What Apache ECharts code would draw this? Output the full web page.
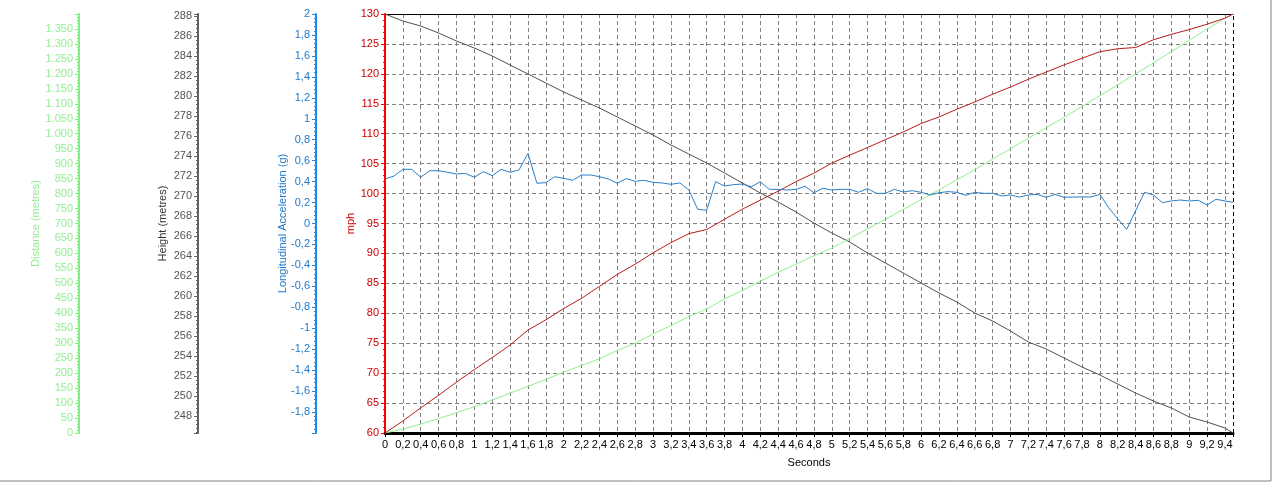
<!DOCTYPE html>
<html>
<head>
<meta charset="utf-8">
<script src="https://cdn.jsdelivr.net/npm/echarts@6/dist/echarts.min.js"></script>
<style>
html,body{margin:0;padding:0;background:#fff;}
#chart{width:1272px;height:482px;}
</style>
</head>
<body>
<div id="chart"></div>
<script>
// Time (s) sampling of the acceleration trace
const secondsFine = [0,0.1,0.2,0.3,0.4,0.5,0.6,0.7,0.8,0.9,1.0,1.1,1.2,1.3,1.4,1.5,1.6,1.7,1.8,1.9,
  2.0,2.1,2.2,2.3,2.4,2.5,2.6,2.7,2.8,2.9,3.0,3.1,3.2,3.3,3.4,3.5,3.6,3.7,3.8,3.9,
  4.0,4.1,4.2,4.3,4.4,4.5,4.6,4.7,4.8,4.9,5.0,5.1,5.2,5.3,5.4,5.5,5.6,5.7,5.8,5.9,
  6.0,6.1,6.2,6.3,6.4,6.5,6.6,6.7,6.8,6.9,7.0,7.1,7.2,7.3,7.4,7.5,7.6,7.7,7.8,7.9,
  8.0,8.1,8.2,8.3,8.4,8.5,8.6,8.7,8.8,8.9,9.0,9.1,9.2,9.3,9.4,9.49];
// Longitudinal acceleration (g)
const accel = [0.425,0.453,0.517,0.517,0.441,0.504,0.504,0.489,0.473,0.478,
  0.441,0.495,0.456,0.517,0.489,0.511,0.670,0.384,0.390,0.447,
  0.431,0.412,0.463,0.463,0.447,0.425,0.384,0.428,0.403,0.412,
  0.393,0.387,0.374,0.387,0.320,0.135,0.126,0.399,0.358,0.371,
  0.377,0.351,0.399,0.326,0.326,0.320,0.326,0.355,0.294,0.336,
  0.320,0.326,0.326,0.298,0.333,0.288,0.288,0.326,0.301,0.313,
  0.298,0.272,0.294,0.304,0.298,0.269,0.298,0.288,0.288,0.263,
  0.272,0.253,0.272,0.278,0.250,0.278,0.250,0.253,0.253,0.253,
  0.278,0.150,0.045,-0.056,0.122,0.298,0.272,0.199,0.215,0.224,
  0.215,0.221,0.177,0.231,0.215,0.202];

// Time (s) sampling of speed / distance / height traces
const secondsCoarse = [0,0.2,0.4,0.6,0.8,1.0,1.2,1.4,1.6,1.8,2.0,2.2,2.4,2.6,2.8,3.0,3.2,3.4,3.6,3.8,
  4.0,4.2,4.4,4.6,4.8,5.0,5.2,5.4,5.6,5.8,6.0,6.2,6.4,6.6,6.8,7.0,7.2,7.4,7.6,7.8,
  8.0,8.2,8.4,8.6,8.8,9.0,9.2,9.4,9.49];
// Speed (mph)
const speed = [60.0,62.0,64.2,66.3,68.5,70.6,72.6,74.7,77.2,78.9,
  80.8,82.5,84.5,86.5,88.2,90.1,91.8,93.3,94.0,95.7,
  97.4,98.9,100.4,102.0,103.4,105.1,106.4,107.7,109.0,110.3,
  111.7,112.8,114.1,115.3,116.6,117.8,119.1,120.3,121.5,122.6,
  123.7,124.2,124.4,125.7,126.6,127.4,128.3,129.3,130.0];
// Distance (metres)
const distance = [0,13,30,48,68,88,110,133,156,179,
  203,226,248,276,300,331,359,389,414,448,
  476,507,537,564,592,618,650,682,714,747,
  780,812,846,880,915,950,985,1020,1055,1091,
  1127,1163,1200,1237,1274,1312,1350,1385,1400];
// Height (metres)
const height = [288.2,287.5,287.0,286.3,285.5,284.8,284.0,283.1,282.2,281.3,
  280.4,279.6,278.8,277.9,277.0,276.1,275.1,274.2,273.3,272.3,
  271.3,270.3,269.4,268.4,267.3,266.3,265.4,264.3,263.3,262.3,
  261.3,260.3,259.4,258.3,257.5,256.5,255.4,254.7,253.8,252.9,
  252.1,251.2,250.3,249.5,248.8,247.9,247.4,246.8,246.3];

const FONT = 'Liberation Sans';
const tMax = secondsFine[secondsFine.length - 1];
const comma = v => String(+(+v).toFixed(2)).replace('.', ',');
const thousands = v => {
  const s = String(Math.round(v));
  return s.replace(/\B(?=(\d{3})+(?!\d))/g, '.');
};

function yAx(opt) {
  const c = opt.color;
  return Object.assign({
    type: 'value',
    position: 'left',
    nameLocation: 'middle',
    nameRotate: 90,
    nameMoveOverlap: false,
    nameTextStyle: { color: opt.nameColor || c, fontFamily: FONT, fontSize: 11 },
    axisLine: { show: true, onZero: false, lineStyle: { color: opt.lineColor || c, width: 2 } },
    axisTick: { show: true, length: 4, lineStyle: { color: opt.lineColor || c } },
    minorTick: { show: true, splitNumber: 5, length: 2, lineStyle: { color: opt.lineColor || c } },
    axisLabel: { color: c, fontFamily: FONT, fontSize: 11, margin: 6 },
    splitLine: { show: false },
    minorSplitLine: { show: false }
  }, opt.extra);
}

const chart = echarts.init(document.getElementById('chart'), null, { renderer: 'canvas' });
chart.setOption({
  backgroundColor: '#ffffff',
  animation: false,
  grid: { left: 385, right: 39, top: 14, bottom: 49, containLabel: false },
  xAxis: [{
    type: 'value', min: 0, max: tMax, interval: 0.2,
    name: 'Seconds', nameLocation: 'middle', nameGap: 24,
    nameTextStyle: { color: '#000', fontFamily: FONT, fontSize: 11 },
    axisLine: { onZero: false, lineStyle: { color: '#000', width: 3 } },
    axisTick: { show: true, length: 4, lineStyle: { color: '#000' } },
    minorTick: { show: true, splitNumber: 4, length: 2, lineStyle: { color: '#000' } },
    axisLabel: { color: '#000', fontFamily: FONT, fontSize: 11, margin: 6, showMaxLabel: false,
      formatter: v => comma(v) },
    splitLine: { show: true, showMinLine: false, showMaxLine: false, lineStyle: { color: '#808080', type: [4, 3], width: 1 } }
  }, {
    type: 'value', min: 0, max: tMax, position: 'top',
    axisLine: { show: true, onZero: false, lineStyle: { color: '#000', width: 1 } },
    axisTick: { show: false }, axisLabel: { show: false }, splitLine: { show: false }
  }],
  yAxis: [
    yAx({ color: '#cc0000', lineColor: '#ff0000', extra: {
      name: 'mph', nameGap: 29, min: 60, max: 130, interval: 5, offset: 0,
      splitLine: { show: true, showMinLine: false, showMaxLine: false, lineStyle: { color: '#808080', type: [4, 3], width: 1 } }
    }}),
    yAx({ color: '#1f78c8', lineColor: '#1e88e5', extra: {
      name: 'Longitudinal Acceleration (g)', nameGap: 28, min: -2, max: 2, interval: 0.2, offset: 69,
      axisLabel: { color: '#1f78c8', fontFamily: FONT, fontSize: 11, margin: 6, showMinLabel: false,
        formatter: v => comma(v) }
    }}),
    yAx({ color: '#555555', lineColor: '#606060', nameColor: '#333333', extra: {
      name: 'Height (metres)', nameGap: 30, min: 246.3, max: 288.2, splitNumber: 20, offset: 187,
      axisLabel: { color: '#555555', fontFamily: FONT, fontSize: 11, margin: 6, showMinLabel: false, showMaxLabel: false,
        formatter: v => String(Math.round(v)) }
    }}),
    yAx({ color: '#90ee90', lineColor: '#80f080', extra: {
      name: 'Distance (metres)', nameGap: 38, min: 0, max: 1400, interval: 50, offset: 306,
      axisLabel: { color: '#90ee90', fontFamily: FONT, fontSize: 11, margin: 6, showMaxLabel: false,
        formatter: v => thousands(v) }
    }})
  ],
  series: [
    { name: 'Height', type: 'line', yAxisIndex: 2, showSymbol: false, symbol: 'none',
      lineStyle: { color: '#505050', width: 1 },
      data: secondsCoarse.map((t, i) => [t, height[i]]),
      markLine: { silent: true, symbol: 'none', label: { show: false },
        lineStyle: { color: '#000', type: [4, 3], width: 1 }, data: [{ xAxis: tMax }] } },
    { name: 'Distance', type: 'line', yAxisIndex: 3, showSymbol: false, symbol: 'none',
      lineStyle: { color: '#90ee90', width: 1 },
      data: secondsCoarse.map((t, i) => [t, distance[i]]) },
    { name: 'Speed', type: 'line', yAxisIndex: 0, showSymbol: false, symbol: 'none',
      lineStyle: { color: '#b81c1c', width: 1 },
      data: secondsCoarse.map((t, i) => [t, speed[i]]) },
    { name: 'Longitudinal Acceleration', type: 'line', yAxisIndex: 1, showSymbol: false, symbol: 'none',
      lineStyle: { color: '#2a7fc9', width: 1 },
      data: secondsFine.map((t, i) => [t, accel[i]]) }
  ],
  graphic: [
    { type: 'polyline', silent: true, shape: { points: [[0, 481], [1271, 481], [1271, 0]] },
      style: { stroke: '#808080', lineWidth: 1, fill: null } }
  ]
});
</script>
</body>
</html>
